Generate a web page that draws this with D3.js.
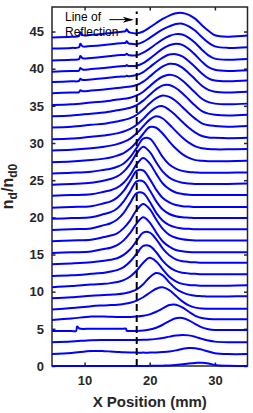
<!DOCTYPE html>
<meta charset="utf-8">
<script src="https://d3js.org/d3.v7.min.js"></script>
<style>
  body { margin: 0; background: #fff; }
  text { font-family: "Liberation Sans", Arial, Helvetica, sans-serif; }
</style>
<div id="chart"></div>
<script>

// x positions (mm) where each profile was read
var xGrid = [5, 8, 11, 13, 14, 15, 16, 17, 18, 19, 20, 21, 22, 23, 24, 25, 26, 27, 28, 29, 30, 32, 35];

// vertical offset of each trace (bottom to top)
var offsets = [0, 1.6, 3.2, 4.7, 6.2, 7.6, 9.1, 10.6, 12.1, 13.7, 15.2, 16.8, 18.3, 19.8, 21.3,
               22.9, 24.4, 25.9, 27.4, 29.0, 30.5, 32.1, 33.6, 35.1, 36.7, 38.2, 39.6, 41.1, 42.7, 44.2];

// profile of each trace above its offset, at xGrid
var profiles = [
  [0,0,0,0,0,0,0,0,0,0,0.02,0.03,0.05,0.08,0.15,0.25,0.35,0.42,0.45,0.35,0.12,0.02,0],
  [0,0.15,0.42,0.4,0.35,0.3,0.25,0.22,0.2,0.2,0.2,0.22,0.27,0.35,0.5,0.7,0.83,0.8,0.6,0.35,0.12,0,0],
  [0,0.1,0.28,0.3,0.3,0.3,0.3,0.3,0.3,0.32,0.36,0.45,0.58,0.75,0.9,0.98,0.92,0.72,0.45,0.22,0.08,0,0],
  [0,0,0.32,0.32,0.32,0.32,0.32,0.02,0.02,0.08,0.2,0.45,0.85,1.35,1.72,1.75,1.45,0.95,0.5,0.25,0.15,0.15,0.15],
  [0,0.2,0.45,0.45,0.42,0.4,0.4,0.4,0.45,0.55,0.75,1.1,1.55,2.0,2.05,1.7,1.1,0.55,0.25,0.12,0.1,0.1,0.1],
  [0,0.2,0.45,0.55,0.6,0.65,0.75,0.9,1.2,1.65,2.25,2.8,2.98,2.6,1.85,1.1,0.55,0.25,0.12,0.1,0.1,0.1,0.1],
  [0,0.15,0.35,0.45,0.5,0.55,0.65,0.85,1.2,1.9,2.85,3.4,3.1,2.15,1.3,0.8,0.5,0.35,0.3,0.25,0.25,0.25,0.3],
  [0,0.15,0.35,0.45,0.55,0.7,0.95,1.45,2.25,3.3,3.95,3.45,2.4,1.4,0.8,0.45,0.3,0.25,0.2,0.2,0.2,0.2,0.25],
  [0,0.1,0.3,0.45,0.6,0.8,1.2,1.95,3.0,4.05,4.05,3.2,2.05,1.2,0.7,0.45,0.35,0.3,0.25,0.25,0.25,0.25,0.25],
  [0,0.1,0.25,0.45,0.6,0.8,1.25,2.0,3.15,4.25,4.25,3.35,2.1,1.2,0.65,0.4,0.3,0.25,0.2,0.2,0.2,0.2,0.2],
  [0,0.1,0.2,0.55,0.7,1.05,1.7,2.7,4.0,4.8,4.1,2.75,1.55,0.85,0.4,0.25,0.15,0.1,0.1,0.1,0.1,0.1,0.1],
  [0,0.1,0.2,0.55,0.75,1.05,1.75,2.8,4.2,5.0,4.3,2.9,1.65,0.85,0.45,0.25,0.15,0.1,0.1,0.1,0.1,0.1,0.1],
  [0,0.1,0.2,0.65,0.9,1.4,2.3,3.65,4.95,4.95,3.8,2.3,1.25,0.65,0.35,0.2,0.15,0.1,0.1,0.1,0.1,0.1,0.1],
  [0,0.1,0.2,0.65,0.9,1.4,2.35,3.7,5.05,5.05,3.85,2.35,1.25,0.65,0.35,0.2,0.15,0.1,0.1,0.1,0.1,0.1,0.1],
  [0,0.1,0.2,0.6,0.85,1.35,2.25,3.6,4.95,5.0,3.85,2.4,1.3,0.7,0.35,0.2,0.15,0.1,0.1,0.1,0.1,0.1,0.1],
  [0,0.1,0.2,0.55,0.75,1.1,1.75,2.85,4.25,5.1,4.35,2.95,1.65,0.9,0.45,0.25,0.15,0.1,0.1,0.1,0.1,0.1,0.1],
  [0,0.1,0.25,0.55,0.75,1.1,1.75,2.8,4.2,5.1,4.4,3.0,1.75,0.95,0.5,0.25,0.15,0.1,0.1,0.1,0.1,0.1,0.15],
  [0,0.1,0.25,0.5,0.65,0.9,1.35,2.2,3.45,4.7,4.7,3.6,2.2,1.2,0.65,0.35,0.2,0.15,0.1,0.1,0.1,0.1,0.15],
  [0,0.1,0.3,0.5,0.65,0.9,1.25,1.85,2.75,3.85,4.75,4.65,3.85,2.8,1.85,1.1,0.6,0.3,0.2,0.15,0.15,0.15,0.2],
  [0,0.1,0.3,0.5,0.65,0.85,1.15,1.6,2.3,3.25,4.15,4.6,4.3,3.5,2.6,1.75,1.05,0.55,0.3,0.2,0.15,0.15,0.2],
  [0,0.1,0.35,0.5,0.65,0.8,1.05,1.4,1.95,2.75,3.65,4.3,4.45,3.95,3.2,2.35,1.55,0.9,0.45,0.25,0.2,0.15,0.2],
  [0,0.1,0.35,0.5,0.65,0.8,1.0,1.25,1.7,2.4,3.25,3.95,4.3,4.1,3.55,2.75,1.9,1.15,0.55,0.3,0.2,0.1,0.2],
  [0,0.1,0.35,0.5,0.65,0.8,0.95,1.15,1.5,2.1,2.9,3.65,4.15,4.2,3.8,3.1,2.25,1.4,0.7,0.35,0.2,0.1,0.2],
  [0,0.1,0.35,0.5,0.6,0.75,0.85,1.0,1.3,1.8,2.55,3.3,3.85,4.1,3.9,3.3,2.5,1.65,0.85,0.4,0.2,0.1,0.2],
  [0,0.1,0.35,0.5,0.6,0.7,0.8,0.9,1.1,1.55,2.25,3.0,3.6,3.95,3.9,3.45,2.7,1.85,1.0,0.45,0.2,0.1,0.2],
  [0,0.1,0.35,0.5,0.6,0.7,0.75,0.8,0.95,1.35,2.0,2.7,3.3,3.7,3.75,3.45,2.8,2.0,1.15,0.5,0.2,0.1,0.2],
  [0,0.1,0.35,0.5,0.6,0.7,0.75,0.75,0.8,1.15,1.75,2.45,3.1,3.55,3.75,3.6,3.05,2.25,1.35,0.6,0.25,0.1,0.2],
  [0,0.1,0.35,0.5,0.6,0.7,0.75,0.7,0.7,1.05,1.6,2.25,2.85,3.3,3.55,3.5,3.05,2.35,1.45,0.7,0.25,0.1,0.2],
  [0,0.1,0.35,0.5,0.6,0.7,0.75,0.65,0.6,0.9,1.45,2.05,2.6,3.0,3.3,3.35,3.0,2.4,1.55,0.8,0.3,0.1,0.2],
  [0,0.1,0.35,0.5,0.6,0.7,0.8,0.65,0.55,0.8,1.35,1.95,2.5,2.95,3.25,3.3,3.05,2.5,1.65,0.9,0.3,0.1,0.25]
];

// small glitches in some traces: [trace, [[x, profile value], ...]]
var notches = [
  [29, [[9.15,0.2],[9.35,0.7],[9.7,0.32],[16.3,0.85],[16.45,1.1],[16.75,0.75]]],
  [28, [[9.15,0.18],[9.35,0.65],[9.7,0.3],[16.3,0.78],[16.45,0.98],[16.75,0.7]]],
  [27, [[9.15,0.18],[9.35,0.6],[9.7,0.3],[16.3,0.78],[16.45,0.92],[16.75,0.72]]],
  [26, [[9.15,0.15],[9.35,0.5],[9.7,0.28],[16.3,0.78],[16.45,0.88],[16.75,0.76]]],
  [25, [[9.15,0.15],[9.35,0.45],[9.7,0.28],[16.3,0.77],[16.45,0.85],[16.75,0.78]]],
  [24, [[9.15,0.15],[9.35,0.4],[9.7,0.27]]],
  [3,  [[8.7,0.02],[8.85,0.62],[9.2,0.34],[16.35,0.32],[16.5,0.02]]]
];

var xTicks = [10, 20, 30];
var yTicks = [0, 5, 10, 15, 20, 25, 30, 35, 40, 45];

var reflectX = 18;
var labelLines = ["Line of", "Reflection"];

var W = 253, H = 413;
var margin = {top: 7, right: 5.5, bottom: 47, left: 52};

var svg = d3.select("#chart").append("svg")
  .attr("width", W)
  .attr("height", H);

var x = d3.scaleLinear().domain([5, 35]).range([margin.left, W - margin.right]);
var y = d3.scaleLinear().domain([0, 48.3]).range([H - margin.bottom, margin.top]);

var axisCol = "#262626";

function styleAxis(g) {
  g.select(".domain").remove();
  g.selectAll(".tick line").attr("stroke", axisCol).attr("stroke-width", 1.5);
  g.selectAll(".tick text")
    .attr("fill", axisCol)
    .style("font-size", "13px")
    .style("font-weight", "bold");
}

svg.append("g")
  .attr("transform", "translate(0," + y(0) + ")")
  .call(d3.axisBottom(x).tickValues(xTicks).tickSize(-3.5).tickPadding(10))
  .call(styleAxis);
svg.append("g")
  .attr("transform", "translate(0," + y.range()[1] + ")")
  .call(d3.axisTop(x).tickValues(xTicks).tickSize(-3.5).tickFormat(""))
  .call(styleAxis);
svg.append("g")
  .attr("transform", "translate(" + x(5) + ",0)")
  .call(d3.axisLeft(y).tickValues(yTicks).tickSize(-3.5).tickPadding(8))
  .call(styleAxis);
svg.append("g")
  .attr("transform", "translate(" + x(35) + ",0)")
  .call(d3.axisRight(y).tickValues(yTicks).tickSize(-3.5).tickFormat(""))
  .call(styleAxis);

svg.append("rect")
  .attr("x", x(5)).attr("y", y.range()[1])
  .attr("width", x(35) - x(5)).attr("height", y(0) - y.range()[1])
  .attr("fill", "none")
  .attr("stroke", axisCol)
  .attr("stroke-width", 1.5);

// traces
var line = d3.line()
  .x(function(d) { return x(d[0]); })
  .y(function(d) { return y(d[1]); })
  .curve(d3.curveCatmullRom.alpha(0.5));

profiles.forEach(function(p, k) {
  var pts = xGrid.map(function(xv, i) { return [xv, p[i]]; });
  notches.forEach(function(n) {
    if (n[0] === k) pts = pts.concat(n[1]);
  });
  pts.sort(function(a, b) { return a[0] - b[0]; });
  pts = pts.map(function(d) { return [d[0], d[1] + offsets[k]]; });
  svg.append("path")
    .attr("d", line(pts))
    .attr("fill", "none")
    .attr("stroke", "#0000ff")
    .attr("stroke-width", 2)
    .attr("stroke-linejoin", "round");
});

// line of reflection
svg.append("path")
  .attr("d", line([[reflectX, 0], [reflectX, 47.7]]))
  .attr("fill", "none")
  .attr("stroke", "#000")
  .attr("stroke-width", 2)
  .attr("stroke-dasharray", "7,4");

// annotation
svg.selectAll(".ann")
  .data(labelLines)
  .enter().append("text")
  .attr("class", "ann")
  .attr("x", x(7.0))
  .attr("y", function(d, i) { return y(46.4) + i * 14.5; })
  .attr("fill", "#000")
  .style("font-size", "12px")
  .text(function(d) { return d; });

var ay = y(46.6);
svg.append("line")
  .attr("x1", x(13.8)).attr("y1", ay)
  .attr("x2", x(17.2)).attr("y2", ay)
  .attr("stroke", "#000").attr("stroke-width", 1);
var tip = x(17.55);
svg.append("path")
  .attr("d", "M" + tip + "," + ay + "L" + (tip - 11) + "," + (ay - 3) +
             "L" + (tip - 8) + "," + ay + "L" + (tip - 11) + "," + (ay + 3) + "Z")
  .attr("fill", "#000");

// axis titles
svg.append("text")
  .attr("x", (x(5) + x(35)) / 2)
  .attr("y", 407)
  .attr("text-anchor", "middle")
  .attr("fill", axisCol)
  .style("font-size", "15px")
  .style("font-weight", "bold")
  .text("X Position (mm)");

var yl = svg.append("text")
  .attr("transform", "translate(13," + ((y(0) + y.range()[1]) / 2) + ") rotate(-90)")
  .attr("text-anchor", "middle")
  .attr("fill", axisCol)
  .style("font-size", "16px")
  .style("font-weight", "bold");
yl.append("tspan").text("n");
yl.append("tspan").attr("dy", 4).style("font-size", "12px").text("d");
yl.append("tspan").attr("dy", -4).text("/n");
yl.append("tspan").attr("dy", 4).style("font-size", "12px").text("d0");

</script>
